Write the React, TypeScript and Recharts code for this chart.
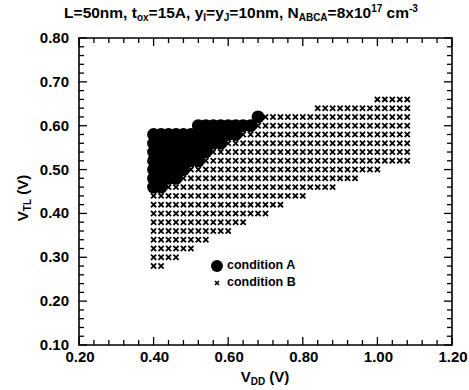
import { Legend, ReferenceArea, Scatter, ScatterChart, XAxis, YAxis } from "recharts";

// V_DD sweep step of the simulation grid
const STEP = 0.02;

// rows of the grid: [V_TL, first V_DD, last V_DD]
const conditionARows: [number, number, number][] = [
  [0.62, 0.68, 0.68],
  [0.6, 0.52, 0.66],
  [0.58, 0.4, 0.62],
  [0.56, 0.4, 0.58],
  [0.54, 0.4, 0.54],
  [0.52, 0.4, 0.52],
  [0.5, 0.4, 0.48],
  [0.48, 0.4, 0.46],
  [0.46, 0.4, 0.42],
];

const conditionBRows: [number, number, number][] = [
  [0.66, 1.0, 1.08],
  [0.64, 0.84, 1.08],
  [0.62, 0.7, 1.08],
  [0.6, 0.68, 1.08],
  [0.58, 0.64, 1.08],
  [0.56, 0.6, 1.08],
  [0.54, 0.56, 1.08],
  [0.52, 0.54, 1.08],
  [0.5, 0.5, 1.0],
  [0.48, 0.48, 0.94],
  [0.46, 0.44, 0.88],
  [0.44, 0.4, 0.8],
  [0.42, 0.4, 0.74],
  [0.4, 0.4, 0.7],
  [0.38, 0.4, 0.64],
  [0.36, 0.4, 0.6],
  [0.34, 0.4, 0.54],
  [0.32, 0.4, 0.5],
  [0.3, 0.4, 0.46],
  [0.28, 0.4, 0.42],
];

const xMajorTicks = [0.2, 0.4, 0.6, 0.8, 1.0, 1.2];
const yMajorTicks = [0.1, 0.2, 0.3, 0.4, 0.5, 0.6, 0.7, 0.8];
const X_MINOR = 0.04;
const Y_MINOR = 0.02;

const W = 469;
const H = 390;
const X_AXIS_H = 30;
const Y_AXIS_W = 40;
const MARGIN = { top: 38, right: 17, bottom: 45 - X_AXIS_H, left: 79 - Y_AXIS_W };
const PLOT_W = W - 79 - MARGIN.right;
const PLOT_H = H - MARGIN.top - 45;
const FONT = '"Liberation Sans", Arial, Helvetica, sans-serif';

function expandRows(rows: [number, number, number][]) {
  const pts: { x: number; y: number }[] = [];
  for (const [y, x0, x1] of rows) {
    const n = Math.round((x1 - x0) / STEP);
    for (let i = 0; i <= n; i++) pts.push({ x: +(x0 + i * STEP).toFixed(2), y });
  }
  return pts;
}

function tickRange(lo: number, hi: number, step: number) {
  const out: number[] = [];
  const n = Math.round((hi - lo) / step);
  for (let i = 0; i <= n; i++) out.push(+(lo + i * step).toFixed(2));
  return out;
}

const isMajor = (v: number, majors: number[]) => majors.some((m) => Math.abs(m - v) < 1e-6);

function renderXTick({ x, y, payload }: any) {
  const v = payload.value as number;
  const major = isMajor(v, xMajorTicks);
  const len = major ? 8 : 5;
  return (
    <g key={`xt-${v}`}>
      <line x1={x} x2={x} y1={y} y2={y - len} stroke="#000" strokeWidth={1.3} />
      <line x1={x} x2={x} y1={y - PLOT_H} y2={y - PLOT_H + len} stroke="#000" strokeWidth={1.3} />
      {major && (
        <text x={x + 1} y={y + 17} textAnchor="middle" fontFamily={FONT} fontWeight="bold" fontSize={15} fill="#000">
          {v.toFixed(2)}
        </text>
      )}
    </g>
  );
}

function renderYTick({ x, y, payload }: any) {
  const v = payload.value as number;
  const major = isMajor(v, yMajorTicks);
  const len = major ? 8 : 5;
  return (
    <g key={`yt-${v}`}>
      <line x1={x} x2={x + len} y1={y} y2={y} stroke="#000" strokeWidth={1.3} />
      <line x1={x + PLOT_W} x2={x + PLOT_W - len} y1={y} y2={y} stroke="#000" strokeWidth={1.3} />
      {major && (
        <text x={x - 10} y={y + 5} textAnchor="end" fontFamily={FONT} fontWeight="bold" fontSize={15} fill="#000">
          {v.toFixed(2)}
        </text>
      )}
    </g>
  );
}

const Dot = (p: any) => <circle cx={p.cx} cy={p.cy} r={6.5} fill="#000" />;

const Cross = (p: any) => {
  const s = 2.6;
  return (
    <path
      d={`M${p.cx - s},${p.cy - s}L${p.cx + s},${p.cy + s}M${p.cx + s},${p.cy - s}L${p.cx - s},${p.cy + s}`}
      stroke="#000"
      strokeWidth={1.8}
    />
  );
};

function LegendBox({ payload }: any) {
  const items = [...(payload ?? [])].sort((a: any, b: any) => String(a.value).localeCompare(String(b.value)));
  return (
    <div style={{ fontFamily: FONT, fontWeight: "bold", fontSize: 12.5, color: "#000", lineHeight: "17px" }}>
      {items.map((entry: any) => (
        <div key={entry.value} style={{ display: "flex", alignItems: "center" }}>
          <svg width={14} height={14} style={{ marginRight: 3 }}>
            {entry.value === "condition A" ? (
              <circle cx={7} cy={7} r={6} fill="#000" />
            ) : (
              <path d="M5,5L9,9M9,5L5,9" stroke="#000" strokeWidth={1.6} />
            )}
          </svg>
          <span>{entry.value}</span>
        </div>
      ))}
    </div>
  );
}

export default function App() {
  const dataA = expandRows(conditionARows);
  const dataB = expandRows(conditionBRows);

  return (
    <div style={{ position: "absolute", left: 0, top: 0, width: W, height: H, background: "#fff" }}>
      <ScatterChart width={W} height={H} margin={MARGIN}>
        <XAxis
          type="number"
          dataKey="x"
          domain={[0.2, 1.2]}
          ticks={tickRange(0.2, 1.2, X_MINOR)}
          interval={0}
          height={X_AXIS_H}
          tickSize={0}
          tickMargin={0}
          tickLine={false}
          axisLine={false}
          tick={renderXTick}
          allowDataOverflow
        />
        <YAxis
          type="number"
          dataKey="y"
          domain={[0.1, 0.8]}
          ticks={tickRange(0.1, 0.8, Y_MINOR)}
          interval={0}
          width={Y_AXIS_W}
          tickSize={0}
          tickMargin={0}
          tickLine={false}
          axisLine={false}
          tick={renderYTick}
          allowDataOverflow
        />
        <ReferenceArea x1={0.2} x2={1.2} y1={0.1} y2={0.8} fill="none" stroke="#000" strokeWidth={1.6} ifOverflow="visible" />
        <Scatter name="condition B" data={dataB} shape={Cross} isAnimationActive={false} />
        <Scatter name="condition A" data={dataA} shape={Dot} isAnimationActive={false} />
        <Legend
          layout="vertical"
          align="center"
          verticalAlign="middle"
          content={(props: any) => <LegendBox payload={props.payload} />}
          wrapperStyle={{ left: 210, top: 257, width: 120 }}
        />
      </ScatterChart>
      <svg width={W} height={H} style={{ position: "absolute", left: 0, top: 0, pointerEvents: "none" }}>
        <text x={241} y={18} textAnchor="middle" fontFamily={FONT} fontWeight="bold" fontSize={15.5} fill="#000">
          L=50nm, t<tspan fontSize={10} dy={3}>ox</tspan>
          <tspan dy={-3}>=15A, y</tspan>
          <tspan fontSize={10} dy={3}>I</tspan>
          <tspan dy={-3}>=y</tspan>
          <tspan fontSize={10} dy={3}>J</tspan>
          <tspan dy={-3}>=10nm, N</tspan>
          <tspan fontSize={10} dy={3}>ABCA</tspan>
          <tspan dy={-3}>=8x10</tspan>
          <tspan fontSize={10} dy={-6}>17</tspan>
          <tspan dy={6}> cm</tspan>
          <tspan fontSize={10} dy={-6}>-3</tspan>
        </text>
        <text
          transform="translate(28,198) rotate(-90)"
          textAnchor="middle"
          fontFamily={FONT}
          fontWeight="bold"
          fontSize={15}
          fill="#000"
        >
          V<tspan fontSize={10} dy={3}>TL</tspan>
          <tspan dy={-3}> (V)</tspan>
        </text>
        <text x={265} y={382} textAnchor="middle" fontFamily={FONT} fontWeight="bold" fontSize={15} fill="#000">
          V<tspan fontSize={10} dy={3}>DD</tspan>
          <tspan dy={-3}> (V)</tspan>
        </text>
      </svg>
    </div>
  );
}
